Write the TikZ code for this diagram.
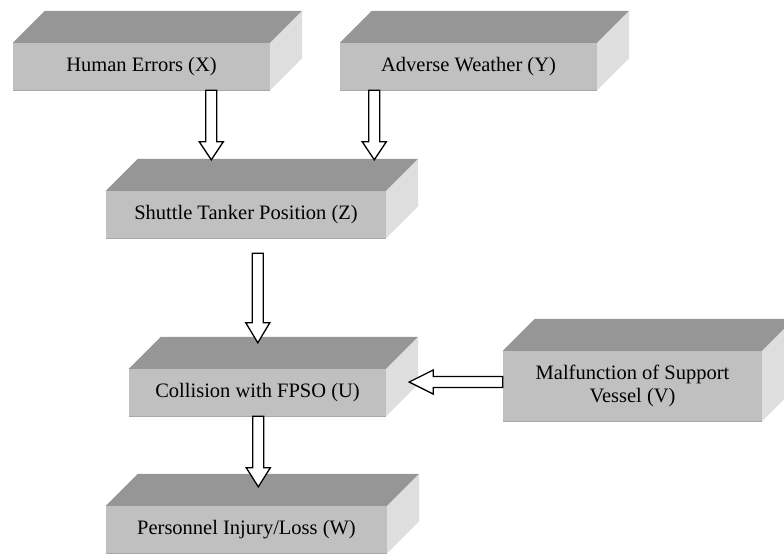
\documentclass[tikz,border=0pt]{standalone}
\usepackage{fontspec}
\setmainfont{Liberation Serif}
\usetikzlibrary{calc}
\definecolor{frontc}{RGB}{192,192,192}
\definecolor{topc}{RGB}{150,150,150}
\definecolor{sidec}{RGB}{222,222,222}
\definecolor{edgec}{RGB}{168,168,168}
\tikzset{
  slab/.style={rectangle, fill=frontc, inner sep=0pt, minimum height=47pt, align=center,
    font=\fontsize{20.5}{23.5}\selectfont},
  topface/.style={fill=topc},
  sideface/.style={fill=sidec},
  frontedge/.style={draw=edgec, line width=1.2pt},
  arrowbody/.style={draw=black, fill=white, line width=1.3pt, line join=miter}
}
\newcommand\slabfaces[1]{%
  \path[topface] (#1.north west) -- ++(32,-32) -- ($(#1.north east)+(32,-32)$) -- (#1.north east) -- cycle;
  \path[sideface] (#1.north east) -- ++(32,-32) -- ($(#1.south east)+(32,-32)$) -- (#1.south east) -- cycle;
  \draw[frontedge] (#1.south west) -- (#1.south east);
}
\newcommand\blockarrow[3]{%
  \coordinate (hb) at ($(#2)!#3pt!(#1)$);
  \draw[arrowbody] ($(#1)!5.5pt!90:(#2)$) -- ($(hb)!5.5pt!90:(#2)$) -- ($(hb)!12pt!90:(#2)$) -- (#2)
    -- ($(hb)!12pt!-90:(#2)$) -- ($(hb)!5.5pt!-90:(#2)$) -- ($(#1)!5.5pt!-90:(#2)$) -- cycle;
}
\begin{document}
\begin{tikzpicture}[x=1pt, y=-1pt]
\useasboundingbox (0,0) rectangle (784,554);
\clip (0,0) rectangle (784,554);

\node[slab, minimum width=257pt] (X) at (141.5,66.5) {Human Errors (X)};
\node[slab, minimum width=257pt] (Y) at (468.5,66.5) {Adverse Weather (Y)};
\node[slab, minimum width=280pt] (Z) at (246,214.5) {Shuttle Tanker Position (Z)};
\node[slab, minimum width=257pt] (U) at (257.5,392.5) {Collision with FPSO (U)};
\node[slab, minimum width=259pt, minimum height=70pt] (V) at (632.5,386) {Malfunction of Support\\Vessel (V)};
\node[slab, minimum width=281pt] (W) at (246.5,529.5) {Personnel Injury/Loss (W)};

\slabfaces{X}
\slabfaces{Y}
\slabfaces{Z}
\slabfaces{U}
\slabfaces{V}
\slabfaces{W}

\coordinate (a1s) at ($(X.south west)+(198.5,0)$);
\coordinate (zt) at ($(Z.north)+(0,-31)$);
\coordinate (a2s) at ($(Y.south west)+(34.5,0)$);
\coordinate (a3s) at ($(Z.south west)+(152,15)$);
\coordinate (ut) at ($(U.north)+(0,-26)$);
\coordinate (a4s) at ($(U.south west)+(129.5,0)$);
\coordinate (wt) at ($(W.north)+(0,-19)$);
\coordinate (a5s) at ($(V.west)+(0,-4)$);
\coordinate (a5e) at ($(U.east)+(23,0)$);

\blockarrow{a1s}{a1s |- zt}{18}
\blockarrow{a2s}{a2s |- zt}{18}
\blockarrow{a3s}{a3s |- ut}{20}
\blockarrow{a4s}{a4s |- wt}{19}
\blockarrow{a5s}{a5e |- a5s}{24}
\end{tikzpicture}
\end{document}
